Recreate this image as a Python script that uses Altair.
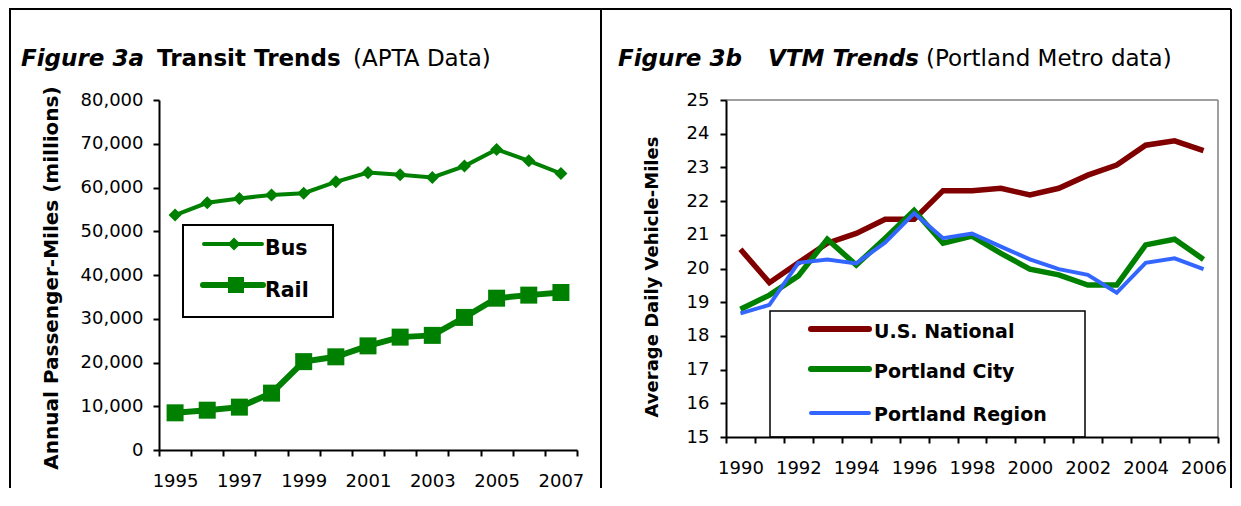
import altair as alt
import pandas as pd

# ---------------- data ----------------
bus_years = list(range(1995, 2008))
bus = [53700, 56500, 57500, 58300, 58700, 61300, 63400, 62900, 62300, 64900, 68700, 66100, 63200]
rail = [8500, 9100, 9800, 13000, 20200, 21300, 23800, 25800, 26200, 30300, 34700, 35400, 36000]
left_y_ticks = [0, 10000, 20000, 30000, 40000, 50000, 60000, 70000, 80000]

vtm_years = list(range(1990, 2007))
us_national = [20.57, 19.58, 20.17, 20.75, 21.04, 21.46, 21.46, 22.31, 22.31, 22.38,
               22.18, 22.38, 22.77, 23.07, 23.66, 23.79, 23.50]
portland_city = [18.79, 19.21, 19.78, 20.87, 20.10, 20.90, 21.72, 20.75, 20.96, 20.45,
                 19.98, 19.81, 19.51, 19.51, 20.70, 20.87, 20.27]
portland_region = [18.67, 18.92, 20.17, 20.27, 20.15, 20.77, 21.64, 20.90, 21.04, 20.65,
                   20.27, 19.98, 19.81, 19.28, 20.17, 20.30, 19.98]
right_y_ticks = [15, 16, 17, 18, 19, 20, 21, 22, 23, 24, 25]

FONT = "DejaVu Sans"
GREEN = "#008000"
DARKRED = "#800000"
BLUE = "#3366FF"

LW, LH = 418, 350
RW, RH = 492, 337

one = pd.DataFrame({"k": [0]})


def hrule(x1, x2, y, color="black", w=2):
    return alt.Chart(one).mark_rule(color=color, strokeWidth=w).encode(
        x=alt.value(x1), x2=alt.value(x2), y=alt.value(y))


def vrule(x, y1, y2, color="black", w=2):
    return alt.Chart(one).mark_rule(color=color, strokeWidth=w).encode(
        x=alt.value(x), y=alt.value(y1), y2=alt.value(y2))


def seg(x1, x2, y, color, w):
    return alt.Chart(one).mark_rule(color=color, strokeWidth=w, strokeCap="round").encode(
        x=alt.value(x1), x2=alt.value(x2), y=alt.value(y))


def txt(s, x, y, size, weight="normal", style="normal", angle=0, align="left", baseline="alphabetic"):
    return alt.Chart(one).mark_text(
        text=s, font=FONT, fontSize=size, fontWeight=weight, fontStyle=style,
        angle=angle, align=align, baseline=baseline, color="black").encode(
        x=alt.value(x), y=alt.value(y))


def box(x1, x2, y1, y2, w=2):
    return alt.Chart(one).mark_rect(fill="white", stroke="black", strokeWidth=w).encode(
        x=alt.value(x1), x2=alt.value(x2), y=alt.value(y1), y2=alt.value(y2))


def x_enc(years, width):
    band = width / len(years)
    ticks = [y - 0.5 for y in years] + [years[-1] + 0.5]
    parity = years[0] % 2
    expr = f"(datum.value + 0.5) % 2 == {parity} && datum.value < {years[-1]} ? toString(datum.value + 0.5) : ''"
    return alt.X("year:Q",
                 scale=alt.Scale(domain=[years[0] - 0.5, years[-1] + 0.5], nice=False, zero=False),
                 axis=alt.Axis(values=ticks, labelExpr=expr, labelOffset=band / 2,
                               labelOverlap=False, labelFlush=False, labelBound=False,
                               labelPadding=16, labelBaseline="top", title=None, zindex=1),
                 title=None)


# ---------------- left panel ----------------
ldf = pd.DataFrame({"year": bus_years, "bus": bus, "rail": rail})
lx = x_enc(bus_years, LW)
ly_scale = alt.Scale(domain=[0, 80000], nice=False)
ly_axis = alt.Axis(values=left_y_ticks, format=",d", labelPadding=10, title=None, zindex=1)

bus_line = alt.Chart(ldf).mark_line(color=GREEN, strokeWidth=4).encode(
    x=lx, y=alt.Y("bus:Q", scale=ly_scale, axis=ly_axis, title=None))
bus_pts = alt.Chart(ldf).mark_point(shape="diamond", filled=True, size=170, color=GREEN, opacity=1).encode(
    x=lx, y=alt.Y("bus:Q", scale=ly_scale, axis=ly_axis, title=None))
rail_line = alt.Chart(ldf).mark_line(color=GREEN, strokeWidth=6).encode(
    x=lx, y=alt.Y("rail:Q", scale=ly_scale, axis=ly_axis, title=None))
rail_pts = alt.Chart(ldf).mark_square(size=289, filled=True, color=GREEN, opacity=1).encode(
    x=lx, y=alt.Y("rail:Q", scale=ly_scale, axis=ly_axis, title=None))

left = alt.layer(
    bus_line, bus_pts, rail_line, rail_pts,
    # frame
    vrule(-149, -91, 388), hrule(-150, 443, -91),
    # title
    txt("Figure 3a", -138, -34, 23, "bold", "italic"),
    txt("Transit Trends", -2, -34, 23, "bold"),
    txt("(APTA Data)", 194, -34, 23),
    # axis title
    txt("Annual Passenger-Miles (millions)", -107, 178, 20, "bold", angle=270,
        align="center", baseline="middle"),
    # legend
    box(24, 174, 125, 217),
    seg(45, 103, 144, GREEN, 4),
    alt.Chart(one).mark_point(shape="diamond", filled=True, size=170, color=GREEN, opacity=1).encode(
        x=alt.value(75), y=alt.value(144)),
    txt("Bus", 106, 155, 20.5, "bold"),
    seg(44, 104, 185, GREEN, 6),
    alt.Chart(one).mark_square(size=256, filled=True, color=GREEN, opacity=1).encode(
        x=alt.value(77), y=alt.value(185)),
    txt("Rail", 106, 197, 20.5, "bold"),
).properties(width=LW, height=LH)

# ---------------- right panel ----------------
rdf = pd.DataFrame({"year": vtm_years, "us": us_national, "city": portland_city, "region": portland_region})
rx = x_enc(vtm_years, RW)
ry_scale = alt.Scale(domain=[15, 25], nice=False, zero=False)
ry_axis = alt.Axis(values=right_y_ticks, format="d", labelPadding=11, title=None, zindex=1)


def vline(field, color, w):
    return alt.Chart(rdf).mark_line(color=color, strokeWidth=w).encode(
        x=rx, y=alt.Y(f"{field}:Q", scale=ry_scale, axis=ry_axis, title=None))


right = alt.layer(
    hrule(0, RW, 0, "#808080", 1.5), vrule(RW, 0, RH, "#808080", 1.5),
    vline("us", DARKRED, 5.5),
    vline("city", GREEN, 5.5),
    vline("region", BLUE, 4),
    # frame
    vrule(-125, -91, 388), hrule(-125, 505, -91), vrule(505, -91, 388),
    # title
    txt("Figure 3b", -108, -34, 23, "bold", "italic"),
    txt("VTM Trends", 42, -34, 23, "bold", "italic"),
    txt("(Portland Metro data)", 200, -34, 23),
    # axis title
    txt("Average Daily Vehicle-Miles", -73, 177, 18, "bold", angle=270,
        align="center", baseline="middle"),
    # legend
    box(44, 359, 211, 337, 1.5),
    seg(85, 143, 229, DARKRED, 6),
    txt("U.S. National", 148, 238, 19, "bold"),
    seg(85, 143, 269, GREEN, 6),
    txt("Portland City", 148, 278, 19, "bold"),
    seg(85, 143, 313, BLUE, 4),
    txt("Portland Region", 148, 321, 19, "bold"),
).properties(width=RW, height=RH)

chart = alt.hconcat(left, right, spacing=149, bounds="flush").properties(
    padding=0, background="white"
).configure_view(stroke=None).configure_axis(
    domainColor="black", domainWidth=2, tickColor="black", tickWidth=2, tickSize=6,
    labelFont=FONT, labelFontSize=18, labelColor="black", grid=False,
)

chart.save("out.html", embed_options={"renderer": "svg", "actions": False})
